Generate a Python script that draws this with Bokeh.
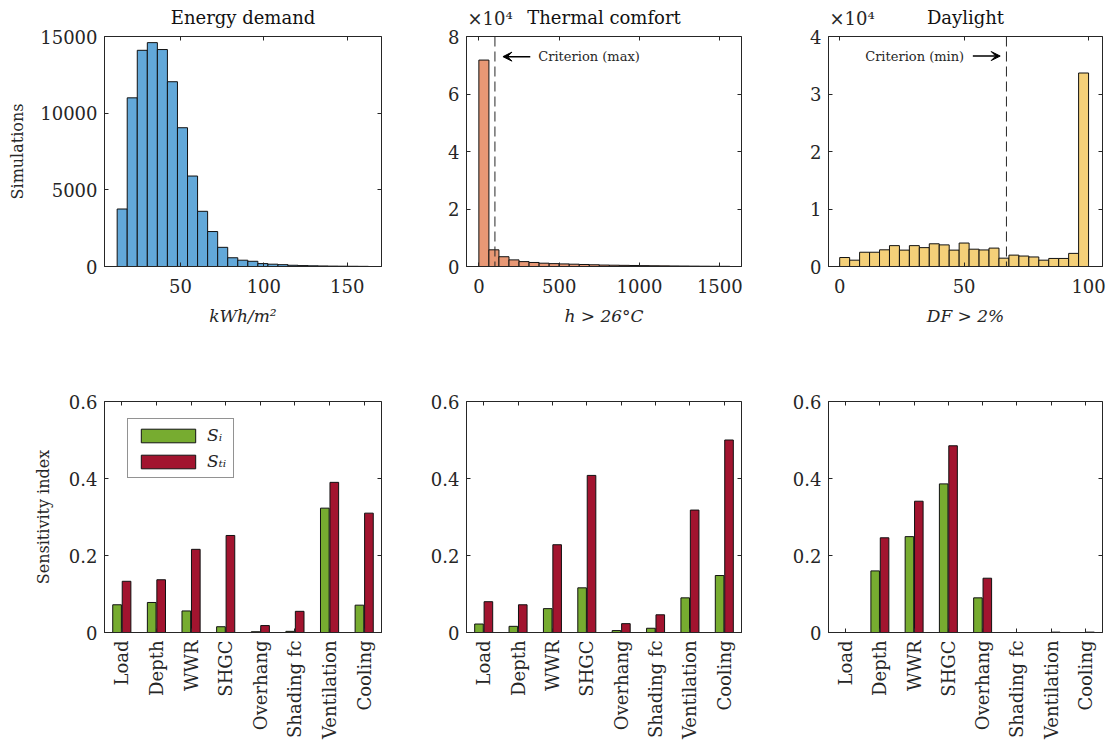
import numpy as np
from bokeh.plotting import figure
from bokeh.layouts import column, row
from bokeh.models import (Range1d, FactorRange, FixedTicker, LinearAxis, CategoricalAxis,
                          Span, Arrow, VeeHead, Label, Legend, LegendItem, ColumnDataSource,
                          CustomJSTickFormatter)
from bokeh.transform import dodge
from bokeh.embed import file_html
from bokeh.resources import INLINE

# ---------------- data ----------------
energy_counts = [3750, 11000, 14100, 14600, 14150, 12050, 9050, 5900, 3600, 2280, 1250, 570,
                 410, 340, 190, 150, 120, 80, 60, 45, 35, 25, 20, 15, 10]
energy_bin_start = 12.0
energy_bin_width = 6.03

thermal_counts = [71800, 5800, 3400, 2300, 1700, 1400, 1150, 1000, 900, 800, 700, 600, 500,
                  450, 400, 350, 300, 260, 220, 190, 160, 130, 100, 80, 60]
thermal_bin_start = 0.0
thermal_bin_width = 62.5
thermal_criterion = 100

daylight_counts = [1560, 1100, 2480, 2480, 2900, 3630, 2850, 3630, 3280, 3950, 3760, 2850, 4080,
                   3010, 2880, 3200, 1450, 1980, 1820, 1660, 1100, 1400, 1400, 2280, 33650]
daylight_bin_start = 0.0
daylight_bin_width = 4.0
daylight_criterion = 67

parameters = ["Load", "Depth", "WWR", "SHGC", "Overhang", "Shading fc", "Ventilation", "Cooling"]
energy_si = [0.072, 0.078, 0.056, 0.015, 0.002, 0.003, 0.323, 0.071]
energy_sti = [0.133, 0.137, 0.216, 0.252, 0.018, 0.055, 0.390, 0.310]
thermal_si = [0.022, 0.016, 0.062, 0.116, 0.005, 0.011, 0.090, 0.148]
thermal_sti = [0.080, 0.072, 0.228, 0.408, 0.023, 0.046, 0.318, 0.500]
daylight_si = [0.0, 0.160, 0.249, 0.386, 0.090, 0.0, 0.0, 0.0]
daylight_sti = [0.0, 0.246, 0.341, 0.485, 0.141, 0.0, 0.001, 0.001]

# ---------------- style ----------------
FONT = "DejaVu Serif"
AX = "#262626"
BLUE = "#62A8D9"
ORANGE = "#E89875"
YELLOW = "#F4D079"
GREEN = "#77AC30"
RED = "#A2142F"
TICK_FS = "18px"
TITLE_H = 28


def base_fig(width, height, x_range, y_range, mb):
    p = figure(width=width, height=height, x_range=x_range, y_range=y_range, title=None,
               output_backend="svg", toolbar_location=None,
               min_border_left=mb[0], min_border_right=mb[1],
               min_border_top=mb[2], min_border_bottom=mb[3])
    p.grid.visible = False
    p.outline_line_color = AX
    p.outline_line_width = 1
    p.background_fill_color = "white"
    p.border_fill_color = "white"
    for ax in p.axis:
        ax.axis_line_color = AX
        ax.major_tick_line_color = AX
        ax.major_tick_in = 4
        ax.major_tick_out = 0
        ax.minor_tick_line_color = None
        ax.major_label_text_font = FONT
        ax.major_label_text_font_size = TICK_FS
        ax.major_label_text_color = AX
        ax.axis_label_text_font = FONT
        ax.axis_label_text_color = AX
    return p


def add_box_axes(p, xticker, yticker, categorical=False):
    top = CategoricalAxis() if categorical else LinearAxis(ticker=xticker)
    right = LinearAxis(ticker=yticker)
    for ax in (top, right):
        ax.major_label_text_font_size = "1px"
        ax.major_label_text_color = None
        ax.major_label_text_alpha = 0
        ax.major_label_standoff = 0
        ax.major_tick_in = 4
        ax.major_tick_out = 0
        ax.major_tick_line_color = AX
        ax.minor_tick_line_color = None
        ax.axis_line_color = None
    p.add_layout(top, "above")
    p.add_layout(right, "right")


def title_fig(width, ml, mr, x_range, title, scaled):
    t = figure(width=width, height=TITLE_H, x_range=x_range, y_range=Range1d(0, TITLE_H),
               title=None, x_axis_location=None, y_axis_location=None, output_backend="svg",
               toolbar_location=None, min_border_left=ml, min_border_right=mr,
               min_border_top=0, min_border_bottom=0)
    t.grid.visible = False
    t.outline_line_color = None
    t.border_fill_color = "white"
    t.background_fill_color = "white"
    t.add_layout(Label(x=(x_range.start + x_range.end) / 2, y=11, text=title,
                       text_align="center", text_baseline="alphabetic", text_font=FONT,
                       text_font_size="18px", text_color="#111111"))
    if scaled:
        t.add_layout(Label(x=x_range.start, y=10.5, x_offset=1, text="×10⁴",
                           text_align="left", text_baseline="alphabetic", text_font=FONT,
                           text_font_size="18px", text_color=AX))
    return t


def hist_fig(counts, start, bw, color, xr, ymax, xticks, yticks, mb, title, xlabel,
             ylabel=None, scaled=False):
    x_range = Range1d(*xr)
    p = base_fig(mb[4], 380 - TITLE_H, x_range, Range1d(0, ymax), mb[:4])
    edges = start + bw * np.arange(len(counts) + 1)
    src = ColumnDataSource(dict(left=edges[:-1], right=edges[1:], top=counts))
    p.quad(left="left", right="right", top="top", bottom=0, source=src,
           fill_color=color, line_color="#111111", line_width=1)
    p.xaxis.ticker = FixedTicker(ticks=xticks)
    p.yaxis.ticker = FixedTicker(ticks=yticks)
    p.xaxis.major_label_standoff = 12
    p.yaxis.major_label_standoff = 7
    p.xaxis.axis_label = xlabel
    p.xaxis.axis_label_text_font_style = "italic"
    p.xaxis.axis_label_text_font_size = "17px"
    p.xaxis.axis_label_standoff = 10
    if ylabel:
        p.yaxis.axis_label = ylabel
        p.yaxis.axis_label_text_font_style = "normal"
        p.yaxis.axis_label_text_font_size = "16px"
        p.yaxis.axis_label_standoff = 10
    if scaled:
        p.yaxis.formatter = CustomJSTickFormatter(code="return (tick/10000).toFixed(0);")
    add_box_axes(p, FixedTicker(ticks=xticks), FixedTicker(ticks=yticks))
    t = title_fig(mb[4], mb[0], mb[1], x_range, title, scaled)
    return p, column(t, p)


def bar_fig(si, sti, mb, ylabel=None, legend=False):
    p = base_fig(mb[4], 369, FactorRange(factors=parameters, range_padding=0),
                 Range1d(0, 0.6), mb[:4])
    src = ColumnDataSource(dict(param=parameters, si=si, sti=sti))
    r1 = p.vbar(x=dodge("param", -0.137, range=p.x_range), top="si", width=0.25, source=src,
                fill_color=GREEN, line_color="#111111", line_width=1)
    r2 = p.vbar(x=dodge("param", 0.137, range=p.x_range), top="sti", width=0.25, source=src,
                fill_color=RED, line_color="#111111", line_width=1)
    p.xaxis.major_label_orientation = np.pi / 2
    p.xaxis.major_label_text_font_size = "18px"
    p.xaxis.major_label_standoff = 8
    p.yaxis.ticker = FixedTicker(ticks=[0, 0.2, 0.4, 0.6])
    p.yaxis.formatter = CustomJSTickFormatter(code="return tick == 0 ? '0' : tick.toFixed(1);")
    p.yaxis.major_label_standoff = 7
    if ylabel:
        p.yaxis.axis_label = ylabel
        p.yaxis.axis_label_text_font_style = "normal"
        p.yaxis.axis_label_text_font_size = "16px"
        p.yaxis.axis_label_standoff = 13
    if legend:
        lg = Legend(items=[LegendItem(label="Sᵢ", renderers=[r1]),
                           LegendItem(label="Sₜᵢ", renderers=[r2])],
                    location=(23, 154), glyph_width=68, glyph_height=17, label_height=17,
                    spacing=6, padding=6, margin=0, label_standoff=5,
                    label_text_font=FONT, label_text_font_style="italic",
                    label_text_font_size="17px", label_text_color=AX,
                    border_line_color=AX, border_line_width=1, background_fill_alpha=1)
        p.add_layout(lg)
    add_box_axes(p, None, FixedTicker(ticks=[0, 0.2, 0.4, 0.6]), categorical=True)
    return p


# margins: left, right, top, bottom, width
p1, c1 = hist_fig(energy_counts, energy_bin_start, energy_bin_width, BLUE, (4.4, 170.6), 15000,
                  [50, 100, 150], [0, 5000, 10000, 15000], (104, 39, 8, 114, 420),
                  "Energy demand", "kWh/m²", ylabel="Simulations")
p2, c2 = hist_fig(thermal_counts, thermal_bin_start, thermal_bin_width, ORANGE, (-77, 1635), 80000,
                  [0, 500, 1000, 1500], [0, 20000, 40000, 60000, 80000], (46, 44, 8, 114, 365),
                  "Thermal comfort", "h > 26°C", scaled=True)
p3, c3 = hist_fig(daylight_counts, daylight_bin_start, daylight_bin_width, YELLOW, (-4.5, 105.6),
                  40000, [0, 50, 100], [0, 10000, 20000, 30000, 40000], (43, 8, 8, 114, 325),
                  "Daylight", "DF > 2%", scaled=True)

# criterion markers
p2.add_layout(Span(location=thermal_criterion, dimension="height", line_dash="10 5",
                   line_color=AX, line_width=1))
p2.add_layout(Arrow(end=VeeHead(size=9, fill_color="black", line_color="black"),
                    x_start=320, y_start=73000, x_end=150, y_end=73000,
                    line_color="black", line_width=1.5))
p2.add_layout(Label(x=370, y=73000, text="Criterion (max)", text_baseline="middle",
                    text_align="left", text_font=FONT, text_font_size="13px", text_color=AX))

p3.add_layout(Span(location=daylight_criterion, dimension="height", line_dash="10 5",
                   line_color=AX, line_width=1))
p3.add_layout(Arrow(end=VeeHead(size=9, fill_color="black", line_color="black"),
                    x_start=53.5, y_start=36600, x_end=64.5, y_end=36600,
                    line_color="black", line_width=1.5))
p3.add_layout(Label(x=50, y=36600, text="Criterion (min)", text_baseline="middle",
                    text_align="right", text_font=FONT, text_font_size="13px", text_color=AX))

p4 = bar_fig(energy_si, energy_sti, (104, 39, 21, 117, 420), ylabel="Sensitivity index", legend=True)
p5 = bar_fig(thermal_si, thermal_sti, (46, 44, 21, 117, 365))
p6 = bar_fig(daylight_si, daylight_sti, (43, 8, 21, 117, 325))

layout = column(row(c1, c2, c3), row(p4, p5, p6))
open("out.html", "w").write(file_html(layout, INLINE))
